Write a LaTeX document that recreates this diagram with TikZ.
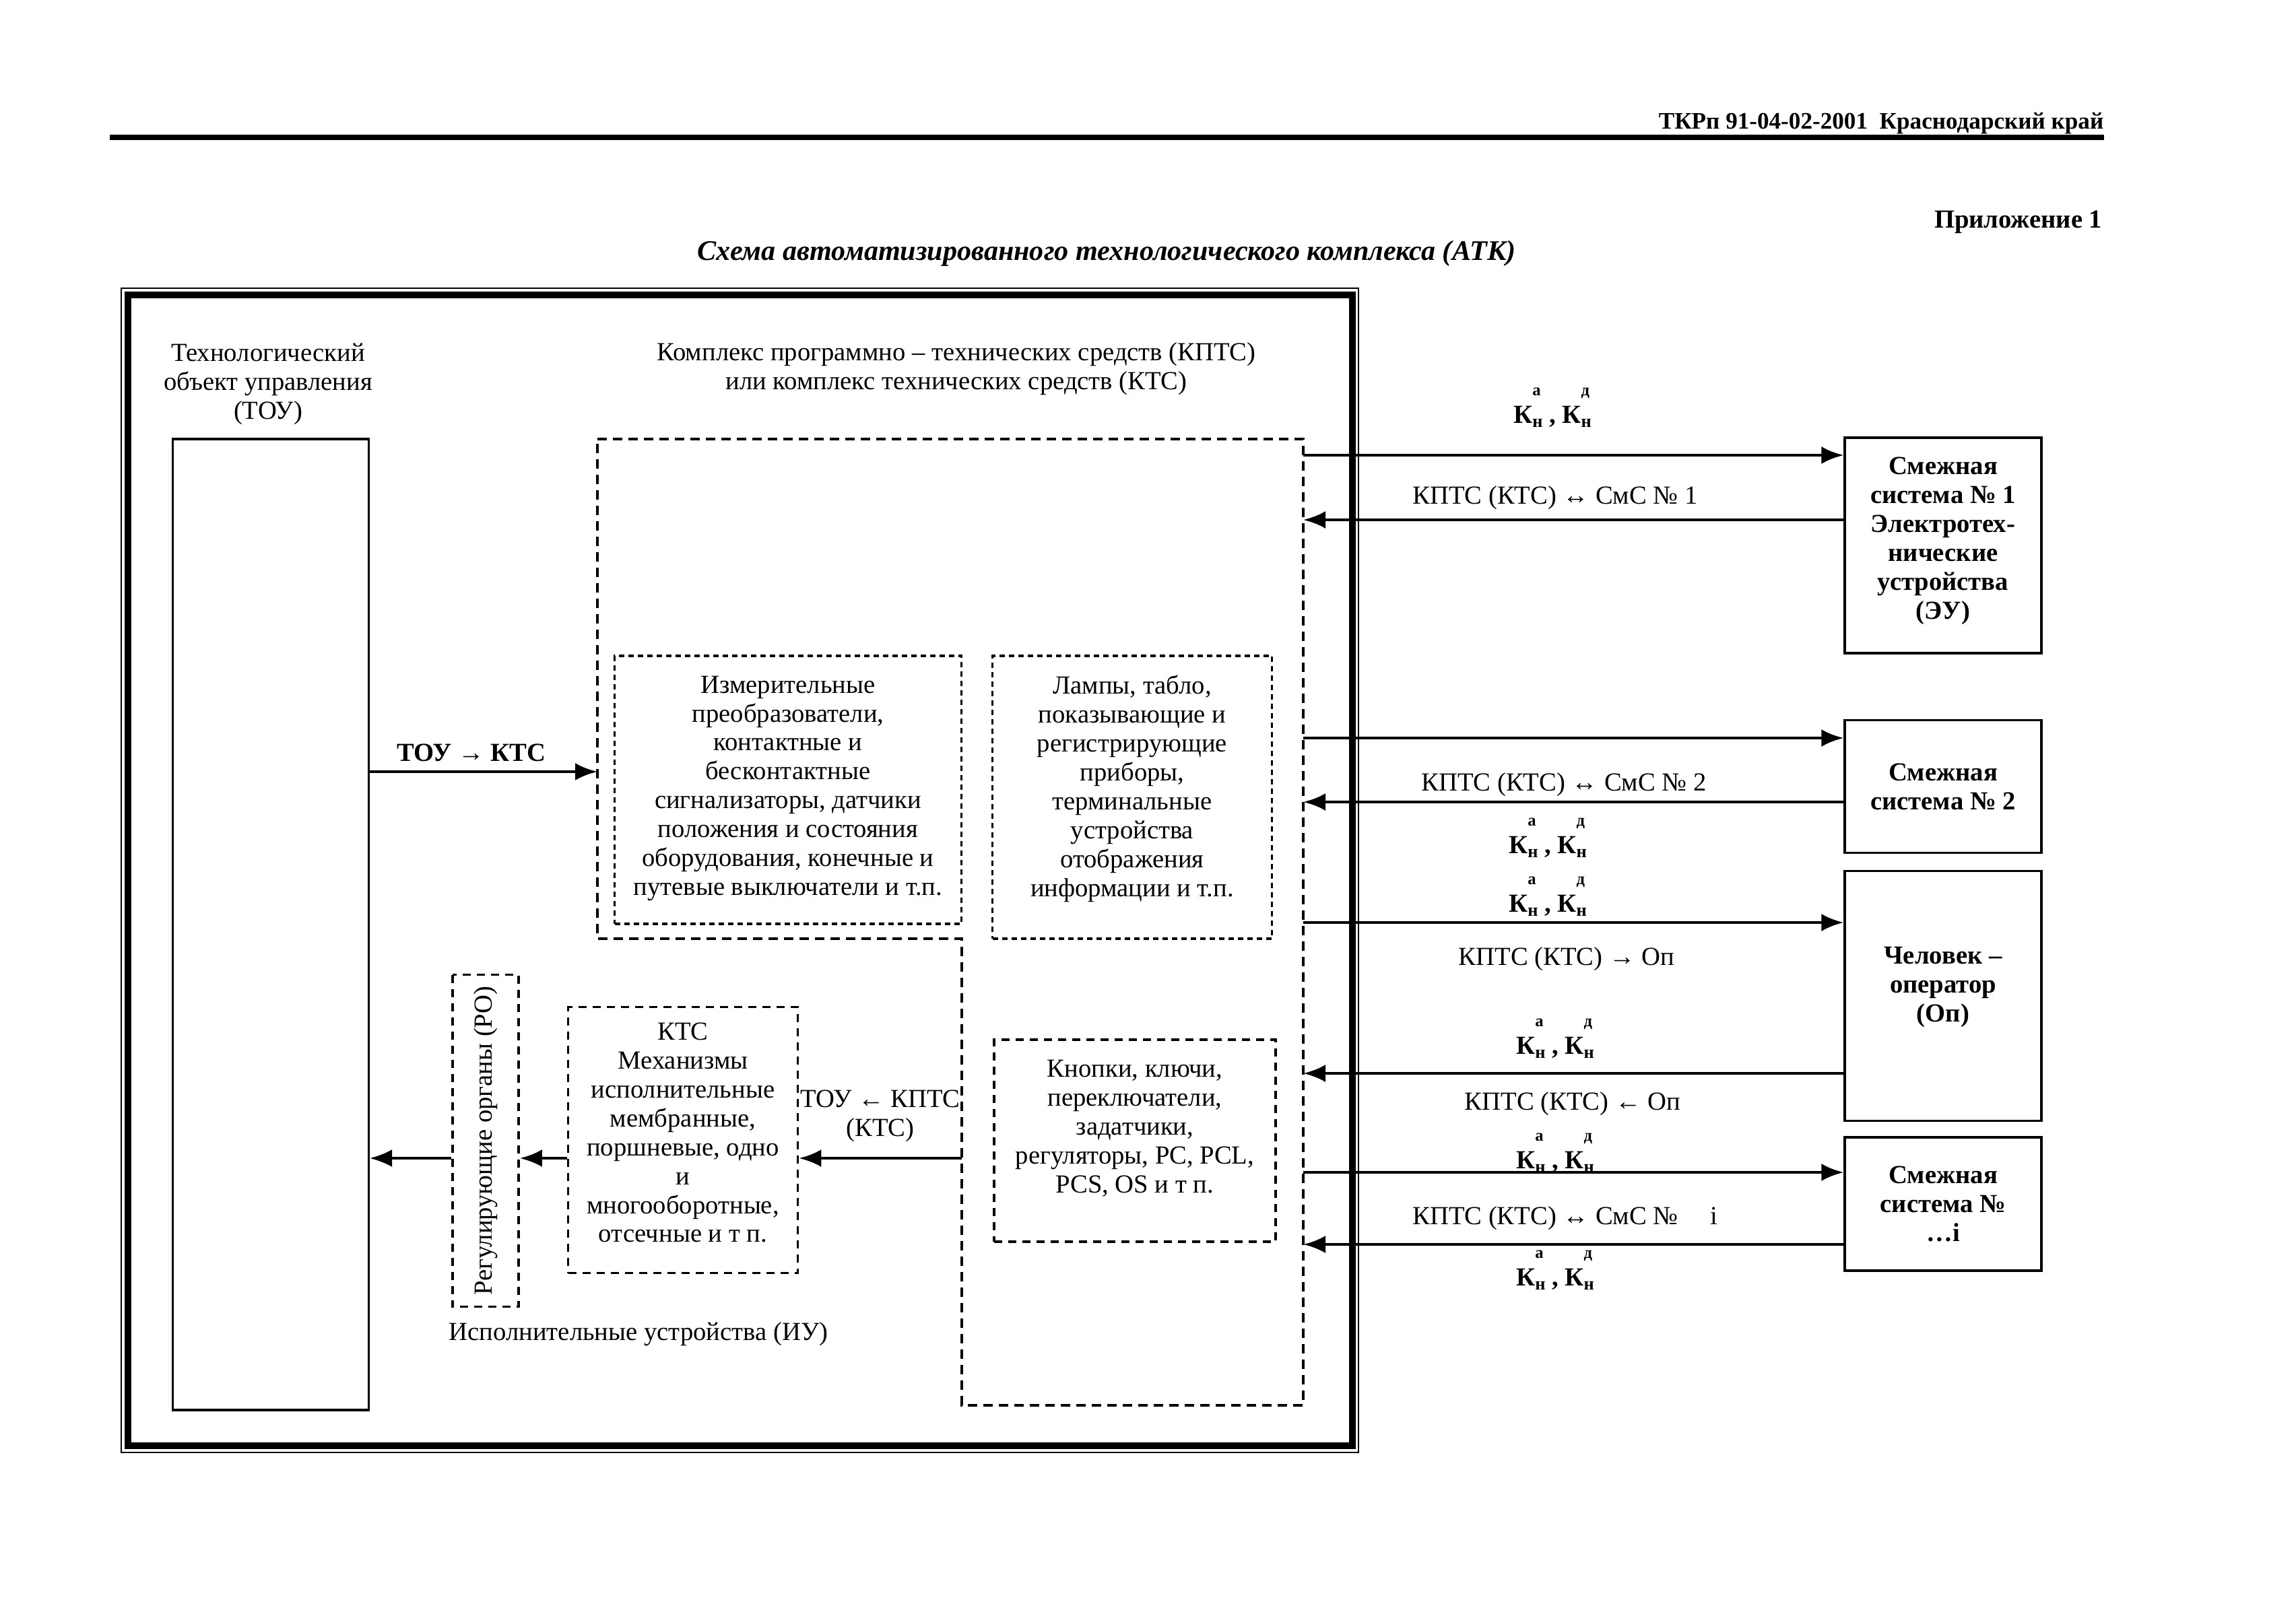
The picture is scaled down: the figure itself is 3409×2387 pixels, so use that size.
\documentclass[tikz,border=0pt]{standalone}
\usepackage{fontspec}
\setmainfont{Liberation Serif}
\usetikzlibrary{arrows.meta, calc}

\newcommand{\kidx}[1]{К\makebox[0pt][l]{\raisebox{1.05em}{\fontsize{7}{7}\selectfont #1}}\raisebox{-0.35ex}{\fontsize{7.5}{7.5}\selectfont н}}
\newcommand{\kpair}{\kidx{а}\ , \kidx{д}}

\tikzset{
    txt/.style={font=\fontsize{11}{12.2}\selectfont, align=center, inner sep=0pt},
    solidbox/.style={draw, line width=0.9pt, inner sep=0pt, align=center},
    dashbox/.style={draw, line width=1pt, dash pattern=on 1.2mm off 0.9mm,
        inner sep=0pt, align=center, font=\fontsize{11}{12.2}\selectfont},
    dotbox/.style={dashbox, dash pattern=on 0.8mm off 0.6mm},
    sysbox/.style={solidbox, font=\bfseries\fontsize{11}{12.2}\selectfont,
        minimum width=29.2mm},
    arr/.style={line width=1.4pt, -{Latex[length=3.3mm,width=2.6mm]}},
    klab/.style={font=\bfseries\fontsize{11}{12}\selectfont, inner sep=0pt, anchor=base},
}

\begin{document}
\begin{tikzpicture}[x=0.1mm, y=-0.1mm]
    \useasboundingbox (0,0) rectangle (3409,2387);

    % header of the page
    \node[anchor=east, inner sep=0pt, font=\bfseries\fontsize{10}{12}\selectfont]
        (header) at (3124,183) {ТКРп 91-04-02-2001 \ Краснодарский край};
    \draw[line width=2pt] (163,204) -- (3124,204);
    \node[anchor=east, inner sep=0pt, font=\bfseries\fontsize{11}{12}\selectfont]
        (appx) at (3122,330) {Приложение 1};
    \node[inner sep=0pt, font=\bfseries\itshape\fontsize{12}{14}\selectfont]
        (title) at (1643,376) {Схема автоматизированного технологического комплекса (АТК)};

    % frame
    \draw[line width=0.8pt] (180,428) rectangle (2017,2157);
    \draw[line width=3pt] (190,438) rectangle (2008,2147);

    \node[txt] (touname) at (398,570) {Технологический\\объект управления\\(ТОУ)};
    \node[solidbox, minimum width=29.1mm, minimum height=144.2mm] (tou) at (402,1373) {};

    \node[txt] (kptsname) at (1420,548)
        {Комплекс программно – технических средств (КПТС)\\или комплекс технических средств (КТС)};
    \draw[line width=1pt, dash pattern=on 1.4mm off 0.9mm]
        (887,652) -- (1935,652) -- (1935,2087) -- (1428,2087)
        -- (1428,1394) -- (887,1394) -- cycle;

    \node[dotbox, minimum width=51.5mm, minimum height=39.8mm] (izm) at (1170,1173)
        {Измерительные\\преобразователи,\\контактные и\\бесконтактные\\сигнализаторы, датчики\\положения и состояния\\оборудования, конечные и\\путевые выключатели и т.п.\\[-3mm]};
    \node[dotbox, minimum width=41.5mm, minimum height=42mm] (lamp) at (1681,1184)
        {Лампы, табло,\\показывающие и\\регистрирующие\\приборы,\\терминальные\\устройства\\отображения\\информации и т.п.\\[-0.9mm]};
    \node[dashbox, minimum width=41.8mm, minimum height=30mm] (knop) at (1685,1694)
        {Кнопки, ключи,\\переключатели,\\задатчики,\\регуляторы, PC, PCL,\\PCS, OS и т п.\\[0mm]};
    \node[dashbox, minimum width=34.1mm, minimum height=39.5mm] (kts) at (1014,1693)
        {КТС\\Механизмы\\исполнительные\\мембранные,\\поршневые, одно\\и\\многооборотные,\\отсечные и т п.\\[-2.1mm]};
    \node[dashbox, rotate=90, minimum width=49.3mm, minimum height=9.8mm] (ro) at (721,1694)
        {Регулирующие органы (РО)};
    \node[txt] (iuname) at (948,1981) {Исполнительные устройства (ИУ)};

    % TOU <-> KTS
    \coordinate (in1) at (887,1146);
    \draw[arr] (in1 -| tou.east) -- (in1);
    \node[inner sep=0pt, font=\bfseries\fontsize{11}{12}\selectfont] (toukts) at (700,1118) {ТОУ → КТС};

    \coordinate (out1) at (1428,1720);
    \draw[arr] (out1) -- (out1 -| kts.east);
    \draw[arr] (out1 -| kts.west) -- (out1 -| ro.south);
    \draw[arr, line width=1pt] (out1 -| ro.north) -- (out1 -| tou.east);
    \node[txt] (ktstou) at (1307,1657) {ТОУ ← КПТС\\(КТС)};

    % adjacent systems
    \node[sysbox, minimum height=32mm] (smc1) at (2885,810)
        {Смежная\\система № 1\\Электротех-\\нические\\устройства\\(ЭУ)\\[-2.1mm]};
    \node[sysbox, minimum height=19.7mm] (smc2) at (2885,1168) {Смежная\\система № 2};
    \node[sysbox, minimum height=37.1mm] (oper) at (2885,1479) {Человек –\\оператор\\(Оп)\\[-0.9mm]};
    \node[sysbox, minimum height=19.8mm] (smci) at (2885,1788) {Смежная\\система №\\…i};

    \coordinate (e1) at (1935,676);
    \coordinate (e2) at (1935,772);
    \coordinate (e3) at (1935,1096);
    \coordinate (e4) at (1935,1191);
    \coordinate (e5) at (1935,1370);
    \coordinate (e6) at (1935,1594);
    \coordinate (e7) at (1935,1741);
    \coordinate (e8) at (1935,1848);

    \draw[arr] (e1) -- (e1 -| smc1.west);
    \draw[arr] (e2 -| smc1.west) -- (e2);
    \draw[arr] (e3) -- (e3 -| smc2.west);
    \draw[arr] (e4 -| smc2.west) -- (e4);
    \draw[arr] (e5) -- (e5 -| oper.west);
    \draw[arr] (e6 -| oper.west) -- (e6);
    \draw[arr] (e7) -- (e7 -| smci.west);
    \draw[arr] (e8 -| smci.west) -- (e8);

    \node[klab] (k1) at (2305,628) {\kpair};
    \node[txt] (l1) at (2309,739) {КПТС (КТС) ↔ СмС № 1};
    \node[txt] (l2) at (2322,1165) {КПТС (КТС) ↔ СмС № 2};
    \node[klab] (k2) at (2298,1267) {\kpair};
    \node[klab] (k3) at (2298,1354) {\kpair};
    \node[txt] (l3) at (2326,1424) {КПТС (КТС) → Оп};
    \node[klab] (k4) at (2309,1565) {\kpair};
    \node[txt] (l4) at (2335,1639) {КПТС (КТС) ← Оп};
    \node[klab] (k5) at (2309,1735) {\kpair};
    \node[txt] (l5) at (2324,1809) {КПТС (КТС) ↔ СмС № \quad i};
    \node[klab] (k6) at (2309,1909) {\kpair};
\end{tikzpicture}
\end{document}
